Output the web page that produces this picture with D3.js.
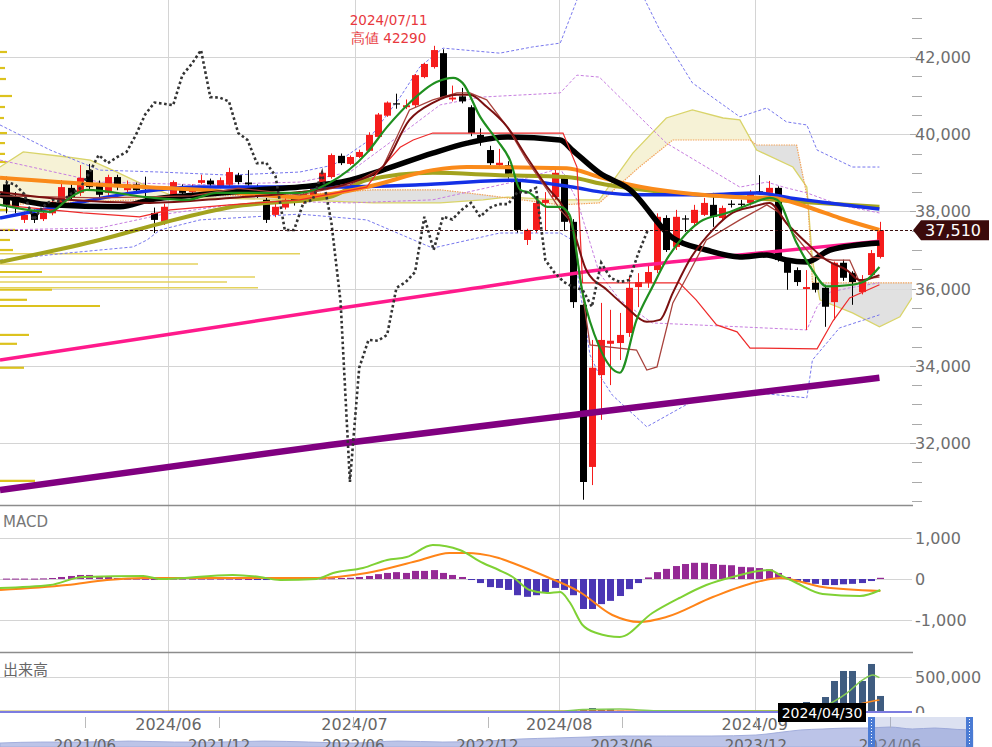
<!DOCTYPE html>
<html><head><meta charset="utf-8">
<script src="https://cdn.jsdelivr.net/npm/d3@7"></script>
<style>body{margin:0;background:#fff;overflow:hidden}svg{display:block;font-family:"DejaVu Sans",Verdana,sans-serif}</style>
</head><body><svg id="c" width="992" height="747"></svg>
<script>
// ---------- DATA ----------
const monthIdx = [17.5, 37.5, 59.5, 80.5];
const monthLabels = ["2024/06", "2024/07", "2024/08", "2024/09"];
const priceTicks = [32000, 34000, 36000, 38000, 40000, 42000];
const macdTicks = [1000, 0, -1000];
const volTicks = [500000, 0];

const openP  = [38700,38300,37780,37960,37800,37950,38220,38610,38480,39070,38740,38480,38890,38550,38700,38650,37960,37730,38370,38630,38500,38740,38800,38630,38690,38940,38750,38650,38300,37910,38100,38350,38250,38400,38690,38890,39440,39230,39410,39570,39930,40480,40800,40700,40750,41480,41740,42100,40900,40980,40700,39980,39590,39200,39200,38810,37260,37520,38220,38370,38890,37730,35580,31380,33760,34570,34590,34850,36040,36150,36480,37830,37080,37820,37700,37910,38170,37830,38200,38200,38220,38520,38480,38610,36690,36480,35990,36150,36020,35650,36670,36410,35910,36350,36820];
const highP  = [38900,38500,38000,38050,38100,38350,38810,38700,39200,39230,38800,38950,38950,38800,38750,38900,38100,38200,38800,38700,38700,38950,38850,38880,39130,39000,39070,38700,38350,38200,38350,38400,38500,38650,39050,39500,39500,39450,39600,40050,40550,40850,41050,40900,41560,41850,42290,42200,41260,41200,40750,40150,39700,39620,39300,38850,37550,38300,38500,39100,38950,37800,35600,34670,35630,35450,35370,36300,36400,36610,37950,37900,38040,37900,38170,38350,38480,38150,38290,38300,38550,38940,38790,38650,36750,36550,36480,36300,36100,36700,36750,36450,36350,37000,37730];
const lowP   = [37950,37950,37700,37700,37750,37900,38150,38300,38400,38550,38350,38400,38550,38450,38450,38300,37440,37650,38300,38400,38450,38700,38600,38600,38650,38700,38550,38350,37700,37850,38050,38150,38200,38350,38600,38850,39200,39200,39380,39550,39900,40450,40660,40650,40700,41450,41700,40930,40850,40800,39950,39700,39200,39150,38850,37450,37130,37450,37500,38300,37500,35500,30530,30910,32600,33500,34150,34750,35520,36020,36400,36950,37000,37470,37650,37880,37600,37780,38100,38050,38150,38450,38450,36700,35970,36070,34930,35900,35010,35190,36200,35580,35850,36300,36780];
const closeP = [38170,38100,37910,37780,37960,38250,38630,38370,38870,38630,38430,38890,38630,38700,38550,38600,37780,38120,38760,38480,38600,38810,38700,38810,39020,38760,38700,38450,37780,38120,38300,38250,38450,38600,39000,39460,39250,39410,39540,39980,40510,40820,40790,40750,41530,41820,42180,40960,40950,40850,40030,39850,39250,39260,38920,37520,37520,38220,38300,39000,37730,35650,30990,33950,34670,34650,34800,36020,36170,36430,37860,37000,37860,37790,38040,38220,37860,38090,38190,38190,38500,38490,38610,36740,36410,36170,36040,35970,35530,36670,36280,36170,36220,36920,37510];
const volume = [8,6,7,5,6,8,9,7,10,8,6,7,8,5,6,7,9,8,6,7,5,6,7,8,9,12,10,8,7,6,8,9,7,8,10,12,9,8,10,11,13,12,9,8,10,12,14,15,12,10,11,9,8,10,12,14,10,9,12,11,15,25,40,57,30,43,18,15,12,10,10,10,10,10,10,10,10,10,10,10,10,10,10,10,40,60,143,100,214,443,586,586,443,686,229].map(v=>v*1000);
const macdHist = [10,10,10,10,15,25,50,75,100,100,75,50,25,10,10,5,0,5,10,10,10,10,10,10,10,5,0,-20,-25,-20,-10,0,5,10,15,20,25,30,50,75,120,150,170,150,200,200,220,150,100,50,-25,-100,-200,-220,-270,-400,-440,-400,-320,-220,-270,-400,-740,-740,-620,-540,-420,-250,-100,40,170,250,320,370,400,400,370,350,340,300,290,270,240,150,50,-70,-80,-120,-150,-150,-130,-120,-100,-50,30];
const macdLine = [[-0.6,-222],[4.8,-148],[8.3,50],[14.8,74],[16.6,0],[24.4,99],[27.3,50],[29.5,-25],[33.4,0],[35.2,148],[38.4,272],[41,470],[43.1,543],[45.9,840],[48.8,716],[51.3,395],[53,222],[54.5,50],[56.3,-272],[58.2,-346],[59.6,-321],[60.6,-568],[62,-1136],[63.5,-1334],[66,-1432],[69.5,-840],[72.4,-469],[75.3,-148],[78.1,50],[82.1,222],[83.2,99],[85,-99],[87.8,-370],[91.8,-420],[94,-272]];
const macdSignal = [[-0.6,-272],[6.6,-148],[10.9,-25],[14.8,25],[24.4,25],[33.4,25],[38.8,148],[44.2,444],[47.7,642],[49.6,642],[51,617],[53,519],[54.5,395],[58.2,50],[61.7,-321],[65.2,-889],[68.1,-1062],[71,-938],[76,-444],[80.7,-74],[83.2,25],[87.8,-198],[94,-296]];
const volMA5 = [[-0.6,6000],[60,12000],[62,35000],[66,42000],[70,18000],[84,15000],[86.5,50000],[87.8,80000],[90.4,270000],[92.1,460000],[93.2,530000],[93.9,490000]];
const volMA25 = [[-0.6,8000],[86,15000],[90,60000],[93,150000],[93.9,170000]];

// moving averages etc. [candle index, price]
const ma5 = [[-0.6,38170],[4.8,37990],[6.6,38300],[8.7,38560],[15.2,38370],[19.5,38300],[22.7,38480],[31.6,38480],[34.8,38740],[38.8,39510],[41,40190],[43.4,40810],[46.3,41350],[48.1,41460],[49.1,41330],[51,40450],[52.8,39850],[54.2,39330],[55.3,38560],[56.3,38480],[58.2,38120],[59.6,38120],[60.6,37910],[62,35890],[63.8,34490],[66,33820],[67.8,35190],[69.5,36040],[71,36740],[73.2,37440],[74.6,37730],[77.5,37960],[80.3,38220],[82.1,38350],[82.9,38300],[85,37180],[86.7,36480],[88.2,36060],[91,36100],[92.5,36220],[93.9,36560]];
const ma10 = [[-0.6,38500],[6.6,38300],[15.5,38220],[24.1,38350],[31.6,38500],[37,38740],[40.5,39150],[43.4,40370],[45.9,40810],[48.5,41020],[49.9,41020],[51.7,40710],[53.9,40190],[56,39410],[58.2,38630],[59.9,38120],[60.9,37600],[62.4,36480],[64.6,35970],[66.7,35520],[68.9,35140],[70.3,35190],[71.7,35890],[73.5,36740],[76,37520],[78.1,37960],[80.3,38120],[82.1,38220],[83.9,37700],[86.1,37180],[88.2,36740],[90.4,36480],[91.8,36220],[93.9,36350]];
const tenkan = [[-0.6,38400],[10,38350],[20,38400],[25,38600],[31.6,38430],[37,38690],[40.5,39130],[43.4,40630],[45.9,40890],[48.5,41070],[49.9,41070],[51.7,40890],[53.9,40190],[56,39330],[58.2,38560],[59.6,38040],[60.9,37700],[62.8,34540],[67.8,34410],[68.9,33890],[70,33970],[71.7,35630],[73.2,36300],[75.3,37260],[78.9,37780],[81.8,38170],[83.2,37960],[84.6,37440],[86.7,36820],[88.9,36740],[90.7,36740],[91.8,36150],[93.2,36280],[93.9,36300]];
const kijun = [[-0.6,38170],[8.3,37960],[14.4,37860],[17.7,38040],[24.1,38170],[31.6,38300],[38.8,38630],[39.9,38990],[42.4,39660],[43.8,39850],[45.9,40030],[59.9,40030],[61.4,39150],[62,36150],[72.4,36150],[74.2,35710],[76.4,35060],[78.6,34880],[80,34460],[87.2,34440],[88.9,35160],[90.7,35760],[93.9,36100]];
const ma25 = [[-0.6,38430],[4.8,38170],[12.3,38120],[15.5,38300],[20.9,38430],[27.3,38560],[31.6,38630],[37,38810],[40.5,39070],[45.9,39510],[49.6,39770],[53.9,39930],[59.6,39850],[60.9,39590],[63.8,39000],[67.1,38560],[71.7,37310],[75.3,37000],[78.9,36820],[81.8,36870],[83.9,36740],[86.1,36690],[88.6,37000],[93.9,37180]];
const ma75 = [[-0.6,38870],[10.1,38690],[20.9,38560],[31.6,38370],[38.8,38630],[45.9,39070],[49.6,39150],[60.3,39120],[63.8,38890],[67.1,38690],[78.9,38370],[82.4,38350],[86.1,38120],[89.6,37830],[93.9,37520]];
const ma13w = [[-0.6,37830],[6.6,38170],[13.7,38480],[20.9,38630],[34.8,38630],[44.5,38690],[54.5,38810],[60.9,38630],[64.6,38480],[68.1,38430],[75.3,38430],[80.7,38480],[84.3,38350],[87.8,38240],[93.9,38060]];
const ma26w = [[-0.6,36690],[10.1,37260],[17.3,37730],[24.4,38120],[34.8,38370],[38.8,38810],[45.9,39000],[53.1,38940],[60.3,38890],[64.6,38690],[71.7,38480],[78.9,38370],[86.1,38240],[93.9,38120]];
const ma200 = [[-0.6,34150],[17.1,34800],[34.8,35450],[49.3,35970],[63.8,36480],[78.9,36870],[93.9,37230]];
const ma52w = [[-0.6,30785],[34.8,31950],[63.8,32810],[93.9,33690]];
const bbUp2 = [[-0.6,40240],[4.8,39590],[10.1,39070],[16.6,39020],[24.1,38940],[31.6,39020],[35.2,39200],[38.8,39800],[42.4,40960],[44.5,41740],[47,42230],[53.1,42100],[56.6,42260],[59.6,42360],[61.4,43480],[63.8,44600],[66.5,44700],[68.7,43480],[70.3,42700],[73.8,41330],[78.9,40450],[81.8,40680],[83.9,40320],[86.1,40240],[87.2,39590],[91,39150],[93.9,39150]];
const bbUp1 = [[-0.6,39330],[10.1,38760],[20.9,38690],[31.6,38760],[37,39020],[42.4,39980],[46.7,40760],[51,40960],[59.6,41070],[61.4,41530],[63.8,41480],[71,39770],[78.9,38630],[81.8,38760],[83.9,38610],[86.1,38480],[89.6,38170],[93.9,37960]];
const bbLo1 = [[-0.6,37520],[10.1,37570],[16.6,37910],[24.1,38170],[31.6,38250],[37,38220],[45.9,38300],[54.5,38760],[59.6,39120],[61.4,38300],[63.8,36400],[66,35710],[69.5,35110],[78.9,35010],[86.1,34930],[87.2,35530],[88.6,35910],[90.7,36020],[93.9,36150]];
const bbLo2 = [[-0.6,36740],[6.6,36920],[13.7,37080],[15.2,37260],[16.6,37520],[20.9,37780],[31.6,37930],[38.8,37780],[45.9,37050],[53.1,37440],[59.6,37440],[60.9,37260],[62.8,34280],[63.8,33760],[65.2,33240],[68.9,32420],[73.5,33040],[80.7,33300],[86.1,33170],[86.7,34150],[89.6,34980],[93.9,35320]];
const spanA = [[-0.6,39150],[1.9,39540],[6.6,39410],[9.1,39330],[11.5,39070],[14.4,38740],[17.7,38430],[20.9,38350],[31.6,38300],[39.5,38220],[46.7,38220],[51.3,38300],[53.9,38370],[59.6,38300],[63.8,38300],[67.4,39510],[71,40420],[73.8,40630],[77.1,40420],[78.9,40370],[80.7,39590],[84.6,39150],[86.1,38630],[86.7,36740],[87.5,35710],[91,35370],[93.9,35010],[96.1,35270],[97.4,35760]];
const spanB = [[-0.6,38170],[14.4,38300],[17.7,38370],[20.9,38400],[31.6,38430],[39.5,38560],[46.7,38560],[51.3,38430],[59.6,38170],[63.8,38220],[68.1,39150],[71.7,39850],[80,39850],[80.7,39720],[85,39720],[86.2,38300],[86.7,36150],[97.4,36150]];
const vpPrice = [42130,41715,41430,40990,40705,40420,40030,39770,39490,39280,39000,38760,38430,38040,37520,37260,37000,36900,36640,36430,36300,36170,36020,35970,35710,35550,34800,34570,33950,31020];
const vpVol = [7,5,6,12,5,4,7,5,5,6,12,8,10,8,15,10,13,300,198,42,255,227,258,52,27,100,29,17,24,35];
const lastPrice = 37510;
const highLabel = ["2024/07/11", "高値 42290"];
const highIdx = 46;
const cursorLabel = "2024/04/30";
const navMonth = [1.2,3,5,7,9,11,13,15,17,19,21,23,24.5,26,27.5,29,31,33,35,36,37,38,39,40,41,42,43,44,44.7];
const navValue = [24400,25500,25500,26600,25500,25500,26600,25500,24400,26600,25500,26600,28900,30000,31100,32200,32200,32200,33300,36000,38900,40000,41000,41100,42200,40000,41100,39500,39000];
const navTickMonth = [5,11,17,23,29,35,41];
const navTickLabels = ["2021/06","2021/12","2022/06","2022/12","2023/06","2023/12","2024/06"];

// ---------- SCALES ----------
const svg = d3.select('#c');
const PR = 912;
const x = d3.scaleLinear().domain([-0.6, 97.4]).range([0, PR]);
const yP = d3.scaleLinear().domain([30394, 43477]).range([505, 0]);
const yM = d3.scaleLinear().domain([-1802, 1827]).range([652, 505]);
const yV = d3.scaleLinear().domain([0, 500000]).range([712, 677]);
const xN = d3.scaleLinear().domain([5, 41]).range([85, 890]);
const yN = d3.scaleLinear().domain([20000, 45000]).range([747, 724.5]);
const vpX = d3.scaleLinear().domain([0, 300]).range([0, 300]);

const defs = svg.append('defs');
defs.append('clipPath').attr('id','clipP').append('rect').attr('x',0).attr('y',0).attr('width',PR).attr('height',505);
defs.append('clipPath').attr('id','clipM').append('rect').attr('x',0).attr('y',506).attr('width',PR).attr('height',146);
defs.append('clipPath').attr('id','clipV').append('rect').attr('x',0).attr('y',653).attr('width',PR).attr('height',60);
defs.append('clipPath').attr('id','clipVL').append('rect').attr('x',900).attr('y',653).attr('width',92).attr('height',60);

const grid = '#d4d4d4';
// grid
const gg = svg.append('g');
gg.selectAll('.hp').data(priceTicks).join('line').attr('x1',0).attr('x2',PR).attr('y1',d=>Math.round(yP(d))+0.5).attr('y2',d=>Math.round(yP(d))+0.5).attr('stroke',grid);
gg.selectAll('.hm').data(macdTicks).join('line').attr('x1',0).attr('x2',PR).attr('y1',d=>Math.round(yM(d))+0.5).attr('y2',d=>Math.round(yM(d))+0.5).attr('stroke',grid);
gg.selectAll('.hv').data(volTicks).join('line').attr('x1',0).attr('x2',PR).attr('y1',d=>Math.round(yV(d))+0.5).attr('y2',d=>Math.round(yV(d))+0.5).attr('stroke',grid);
gg.selectAll('.vg').data(monthIdx).join('line').attr('x1',d=>Math.round(x(d))+0.5).attr('x2',d=>Math.round(x(d))+0.5).attr('y1',0).attr('y2',712).attr('stroke',grid);
// panel separators
[505.5, 652.5].forEach(yy=>svg.append('line').attr('x1',0).attr('x2',PR+1).attr('y1',yy).attr('y2',yy).attr('stroke','#8c8c8c').attr('stroke-width',1.5));

// minor price ticks
const minor = d3.range(30500, 43500, 500).filter(v=>v%2000!==0);
svg.selectAll('.mt').data(minor).join('line').attr('x1',PR).attr('x2',PR+10).attr('y1',d=>Math.round(yP(d))+0.5).attr('y2',d=>Math.round(yP(d))+0.5).attr('stroke','#aaa');
svg.selectAll('.Mt').data(priceTicks).join('line').attr('x1',PR-2).attr('x2',PR+4).attr('y1',d=>Math.round(yP(d))+0.5).attr('y2',d=>Math.round(yP(d))+0.5).attr('stroke','#aaa');

// ---------- PRICE PANEL ----------
const gp = svg.append('g').attr('clip-path','url(#clipP)');
const line = (curve)=>d3.line().x(d=>x(d[0])).y(d=>yP(d[1])).curve(curve||d3.curveMonotoneX);

// volume profile
gp.selectAll('.vp').data(vpPrice).join('line')
  .attr('x1',0).attr('x2',(d,i)=>vpX(vpVol[i]))
  .attr('y1',d=>yP(d)).attr('y2',d=>yP(d))
  .attr('stroke',(d,i)=>vpVol[i]>150?'#e4d25c':'#dcc21e').attr('stroke-width',(d,i)=>vpVol[i]>150?1.5:2.2);

// ichimoku cloud
const aPts = spanA.map(d=>[x(d[0]),yP(d[1])]);
const bPts = spanB.map(d=>[x(d[0]),yP(d[1])]);
const poly = aPts.concat(bPts.slice().reverse()).map(p=>p.join(',')).join(' ');
const above = aPts.concat([[aPts[aPts.length-1][0]+1,-20],[aPts[0][0]-1,-20]]).map(p=>p.join(',')).join(' ');
const below = aPts.concat([[aPts[aPts.length-1][0]+1,700],[aPts[0][0]-1,700]]).map(p=>p.join(',')).join(' ');
defs.append('clipPath').attr('id','cAbove').append('polygon').attr('points',above);
defs.append('clipPath').attr('id','cBelow').append('polygon').attr('points',below);
gp.append('g').attr('clip-path','url(#cAbove)').append('polygon').attr('points',poly).attr('fill','#dcdcdc').attr('fill-opacity',0.85);
gp.append('g').attr('clip-path','url(#cBelow)').append('polygon').attr('points',poly).attr('fill','#f6f2d6');
gp.append('path').attr('d',line(d3.curveLinear)(spanA)).attr('fill','none').attr('stroke','#d9d46a').attr('stroke-width',1.3);
gp.append('path').attr('d',line(d3.curveLinear)(spanB)).attr('fill','none').attr('stroke','#f2a35a').attr('stroke-width',1.2).attr('stroke-dasharray','1.5,1');

// bollinger
[[bbUp2,'#7777ee'],[bbLo2,'#7777ee'],[bbUp1,'#c77de0'],[bbLo1,'#c77de0']].forEach(([d,c])=>{
  gp.append('path').attr('d',line(d3.curveLinear)(d)).attr('fill','none').attr('stroke',c).attr('stroke-width',1).attr('stroke-dasharray','3,2');
});

// candles
const candles = openP.map((o,i)=>({i,o,h:highP[i],l:lowP[i],c:closeP[i]}));
const cx = i=>Math.round(x(i))+0.5;
const col = d=>d.c>d.o?'#f51c1c':'#000';
gp.selectAll('.wick').data(candles).join('line').attr('x1',d=>cx(d.i)).attr('x2',d=>cx(d.i)).attr('y1',d=>yP(d.h)).attr('y2',d=>yP(d.l)).attr('stroke',col).attr('stroke-width',1);
gp.selectAll('.body').data(candles).join('rect').attr('x',d=>cx(d.i)-3.5).attr('width',7)
  .attr('y',d=>yP(Math.max(d.o,d.c))).attr('height',d=>Math.max(1.2,Math.abs(yP(d.o)-yP(d.c)))).attr('fill',col);

// MA lines
[[ma52w,'#800080',6.5],[ma200,'#ff1a8c',3.5],[ma26w,'#a3a31e',4],[ma13w,'#1430e6',3.5],[ma75,'#fa8a1a',4],[ma25,'#000',5.5]].forEach(([d,c,w])=>{
  gp.append('path').attr('d',line()(d)).attr('fill','none').attr('stroke',c).attr('stroke-width',w).attr('stroke-linejoin','round');
});
gp.append('path').attr('d',line(d3.curveLinear)(kijun)).attr('fill','none').attr('stroke','#ee2a2a').attr('stroke-width',1.2);
gp.append('path').attr('d',line(d3.curveLinear)(tenkan)).attr('fill','none').attr('stroke','#a8423c').attr('stroke-width',1.3);
gp.append('path').attr('d',line()(ma10)).attr('fill','none').attr('stroke','#7a1010').attr('stroke-width',2);
gp.append('path').attr('d',line()(ma5)).attr('fill','none').attr('stroke','#1f8f1f').attr('stroke-width',2.2);

// chikou span: closes shifted back 25 periods
const chikou = closeP.slice(25).map((c,i)=>[i,c]);
gp.append('path').attr('d',line(d3.curveLinear)(chikou)).attr('fill','none').attr('stroke','#333').attr('stroke-width',2.6).attr('stroke-dasharray','2.6,2.6');

// last price line
svg.append('line').attr('x1',0).attr('x2',PR).attr('y1',Math.round(yP(lastPrice))+0.5).attr('y2',Math.round(yP(lastPrice))+0.5)
  .attr('stroke','#3a1010').attr('stroke-dasharray','3,2');
const ly = yP(lastPrice);
svg.append('polygon').attr('points',`${PR+1},${ly} ${PR+9},${ly-10} 989,${ly-10} 989,${ly+10} ${PR+9},${ly+10}`).attr('fill','#3b0b0b');
svg.append('text').attr('x',953).attr('y',ly+6).attr('text-anchor','middle').attr('fill','#fff').attr('font-size',16).text(d3.format(',')(lastPrice));

// high annotation
svg.append('text').attr('x',x(highIdx)-45).attr('y',25).attr('text-anchor','middle').attr('fill','#e8383d').attr('font-size',13.5).text(highLabel[0]);
svg.append('text').attr('x',x(highIdx)-45).attr('y',43).attr('text-anchor','middle').attr('fill','#e8383d').attr('font-size',13.5).text(highLabel[1]);

// price labels
svg.selectAll('.pl').data(priceTicks).join('text').attr('x',915).attr('y',d=>yP(d)+6).attr('fill','#6e6e6e').attr('font-size',16).text(d=>d3.format(',')(d));

// ---------- MACD ----------
const gm = svg.append('g').attr('clip-path','url(#clipM)');
gm.selectAll('.hb').data(macdHist).join('rect').attr('x',(d,i)=>cx(i)-3.5).attr('width',7)
  .attr('y',d=>d>=0?yM(d):yM(0)).attr('height',d=>Math.max(1,Math.abs(yM(d)-yM(0))))
  .attr('fill',d=>d>=0?'#952a95':'#4b36b4');
const lineM = d3.line().x(d=>x(d[0])).y(d=>yM(d[1])).curve(d3.curveMonotoneX);
gm.append('path').attr('d',lineM(macdSignal)).attr('fill','none').attr('stroke','#ff8418').attr('stroke-width',2);
gm.append('path').attr('d',lineM(macdLine)).attr('fill','none').attr('stroke','#7fd134').attr('stroke-width',2);
svg.append('text').attr('x',3).attr('y',527).attr('fill','#777').attr('font-size',15).text('MACD');
svg.selectAll('.ml').data(macdTicks).join('text').attr('x',915).attr('y',d=>yM(d)+6).attr('fill','#6e6e6e').attr('font-size',16).text(d=>d3.format(',')(d).replace('−','-'));

// ---------- VOLUME ----------
const gv = svg.append('g').attr('clip-path','url(#clipV)');
gv.selectAll('.vb').data(volume).join('rect').attr('x',(d,i)=>cx(i)-3.5).attr('width',7)
  .attr('y',d=>yV(d)).attr('height',d=>yV(0)-yV(d)).attr('fill','#3f5c80');
const lineV = d3.line().x(d=>x(d[0])).y(d=>yV(d[1])).curve(d3.curveMonotoneX);
gv.append('path').attr('d',lineV(volMA25)).attr('fill','none').attr('stroke','#ff8a1c').attr('stroke-width',1.5);
gv.append('path').attr('d',lineV(volMA5)).attr('fill','none').attr('stroke','#86cc55').attr('stroke-width',1.5);
svg.append('line').attr('x1',0).attr('x2',PR).attr('y1',712).attr('y2',712).attr('stroke','#7c7ce0').attr('stroke-width',2);
svg.append('text').attr('x',3).attr('y',675).attr('fill','#666').attr('font-size',15).attr('font-family','"Noto Sans CJK JP",sans-serif').text('出来高');
svg.append('g').attr('clip-path','url(#clipVL)').selectAll('text').data(volTicks).join('text').attr('x',915).attr('y',d=>yV(d)+6).attr('fill','#6e6e6e').attr('font-size',16).text(d=>d3.format(',')(d));

// ---------- X AXIS ----------
svg.selectAll('.xl').data(monthIdx).join('text').attr('x',d=>x(d)).attr('y',730).attr('text-anchor','middle').attr('fill','#666').attr('font-size',16).text((d,i)=>monthLabels[i]);

// ---------- NAVIGATOR ----------
const navPts = navMonth.map((m,i)=>[m,navValue[i]]);
const areaN = d3.area().x(d=>xN(d[0])).y0(747).y1(d=>yN(d[1])).curve(d3.curveMonotoneX);
svg.append('path').attr('d',areaN(navPts)).attr('fill','#bcc4e8').attr('stroke','#a3aedc').attr('stroke-width',1);
svg.selectAll('.nt').data(navTickMonth).join('line').attr('x1',d=>Math.round(xN(d))+0.5).attr('x2',d=>Math.round(xN(d))+0.5).attr('y1',717).attr('y2',728).attr('stroke','#bbb');
svg.selectAll('.nl').data(navTickMonth).join('text').attr('x',d=>xN(d)).attr('y',751).attr('text-anchor','middle').attr('fill','#666').attr('font-size',15).text((d,i)=>navTickLabels[i]);
svg.append('rect').attr('x',871).attr('y',717).attr('width',98).attr('height',30).attr('fill','#8a9ad0').attr('fill-opacity',0.3);
[868,966].forEach(hx=>{
  svg.append('rect').attr('x',hx).attr('y',717).attr('width',7).attr('height',30).attr('fill','#4a7bd4');
  svg.append('line').attr('x1',hx+3.5).attr('x2',hx+3.5).attr('y1',719).attr('y2',745).attr('stroke','#fff').attr('stroke-dasharray','1,2');
});

// cursor date label
svg.append('rect').attr('x',778).attr('y',703).attr('width',88).attr('height',19).attr('fill','#000');
svg.append('text').attr('x',822).attr('y',717.5).attr('text-anchor','middle').attr('fill','#fff').attr('font-size',14).text(cursorLabel);
</script></body></html>
